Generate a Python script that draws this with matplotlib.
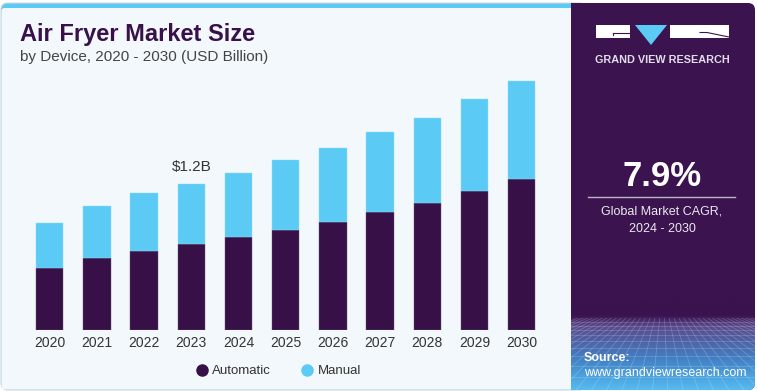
import numpy as np
import matplotlib
matplotlib.use("Agg")
import matplotlib.pyplot as plt
from matplotlib.patches import FancyBboxPatch, Rectangle, Polygon
from matplotlib.lines import Line2D

plt.rcParams['font.family'] = ['Liberation Sans', 'DejaVu Sans']

# data (USD Billion)
years = ['2020', '2021', '2022', '2023', '2024', '2025',
         '2026', '2027', '2028', '2029', '2030']
automatic = [0.51, 0.59, 0.65, 0.71, 0.76, 0.82, 0.89, 0.97, 1.04, 1.14, 1.24]
manual = [0.37, 0.43, 0.47, 0.49, 0.53, 0.57, 0.60, 0.65, 0.70, 0.75, 0.80]
series_names = ['Automatic', 'Manual']
highlight_year = '2023'
highlight_label = '$1.2B'
cagr = '7.9%'

DARK = '#371047'
PANEL = '#3a134f'
CYAN = '#5bcbf5'
LIGHT = '#f3f8fc'

W, H = 757, 391
fig = plt.figure(figsize=(W / 100, H / 100), dpi=100)
fig.patch.set_facecolor('white')

# background canvas in pixel coordinates
bg = fig.add_axes([0, 0, 1, 1], zorder=0)
bg.set_xlim(0, W)
bg.set_ylim(H, 0)
bg.axis('off')

card = FancyBboxPatch((1, 3), 754, 387, boxstyle='round,pad=0,rounding_size=7',
                      fc=PANEL, ec='none')
bg.add_patch(card)
bg.add_patch(FancyBboxPatch((1, 3), 585, 387, boxstyle='round,pad=0,rounding_size=7',
                            fc=CYAN, ec='#cfd6dc', lw=0.8))
bg.add_patch(FancyBboxPatch((1.5, 8), 584, 381.5, boxstyle='round,pad=0,rounding_size=3',
                            fc=LIGHT, ec='none'))
bg.add_patch(Rectangle((571, 3), 20, 387, fc=PANEL, ec='none'))

# gradient + mesh at bottom of the right panel
ys = np.arange(300, 391)
stop_y = [300, 315, 326, 360, 390]
stop_c = np.array([[0x3a, 0x13, 0x4f], [0x3a, 0x13, 0x4f], [0x58, 0x4a, 0x8c],
                   [0x43, 0x82, 0xc6], [0x55, 0xbb, 0xf0]]) / 255.0
grad = np.stack([np.interp(ys, stop_y, stop_c[:, k]) for k in range(3)], axis=-1)
im = bg.imshow(grad[:, None, :], extent=[571, 755, 390, 300], aspect='auto', zorder=1)
im.set_clip_path(card)
bg.set_xlim(0, W)
bg.set_ylim(H, 0)

mesh_clip = Rectangle((571, 318), 184, 72, transform=bg.transData)
vx, vy = 663, 285
for bx in np.arange(380, 960, 16):
    ln = Line2D([vx, bx], [vy, 395], color='white', alpha=0.2, lw=0.6, zorder=2)
    bg.add_line(ln)
    ln.set_clip_path(mesh_clip)
for hy in [322, 326, 330, 335, 341, 348, 356, 366, 377, 390]:
    ln = Line2D([571, 755], [hy, hy], color='white', alpha=0.18, lw=0.6, zorder=2)
    bg.add_line(ln)
    ln.set_clip_path(mesh_clip)

# logo
bg.add_patch(Rectangle((596, 25), 34, 12.5, fc='white', ec='none', zorder=3))
bg.plot([612.5, 630], [32.5, 32.5], color=PANEL, lw=0.8, zorder=4)
bg.plot([612.5, 612.5], [32.5, 35], color=PANEL, lw=0.8, zorder=4)
bg.add_patch(Polygon([(635, 25), (667, 25), (651, 45)], closed=True, fc=CYAN, ec='none', zorder=3))
bg.add_patch(Rectangle((670, 25), 59, 12.5, fc='white', ec='none', zorder=3))
bg.plot([700, 707, 729], [32.5, 32.5, 37], color=PANEL, lw=0.8, zorder=4)
bg.text(662, 60, 'GRAND VIEW RESEARCH', color='#e2dde8', fontsize=7.8,
        fontweight='bold', ha='center', va='center', zorder=4)

# CAGR block
bg.text(662, 176, cagr, color='white', fontsize=25, fontweight='bold',
        ha='center', va='center', zorder=4)
bg.plot([588, 735], [197, 197], color='#bdb4c8', lw=1, zorder=4)
bg.text(662, 212, 'Global Market CAGR,', color='#ece8f0', fontsize=9,
        ha='center', va='center', zorder=4)
bg.text(662, 229, '2024 - 2030', color='#ece8f0', fontsize=9,
        ha='center', va='center', zorder=4)

# source
bg.text(584, 358, 'Source:', color='white', fontsize=9, fontweight='bold',
        ha='left', va='center', zorder=4)
bg.text(584, 373, 'www.grandviewresearch.com', color='white', fontsize=9,
        ha='left', va='center', zorder=4)

# titles
bg.text(20, 34, 'Air Fryer Market Size', color='#38114a', fontsize=17,
        fontweight='bold', ha='left', va='center', zorder=4)
bg.text(20, 57, 'by Device, 2020 - 2030 (USD Billion)', color='#444444',
        fontsize=11, ha='left', va='center', zorder=4)

# bar chart
bottom_px, top_px, left_px, right_px = 330.3, 70, 10, 560
ax = fig.add_axes([left_px / W, (H - bottom_px) / H,
                   (right_px - left_px) / W, (bottom_px - top_px) / H], zorder=2)
ax.patch.set_alpha(0)
x = np.arange(len(years))
ax.bar(x, automatic, width=0.578, color=DARK, edgecolor='#6a5578', linewidth=0.3)
ax.bar(x, manual, width=0.578, bottom=automatic, color=CYAN, edgecolor='#8fdcf8', linewidth=0.3)
ax.set_xlim(-0.841, 10.811)
ax.set_ylim(0, 2.13)
for s in ax.spines.values():
    s.set_visible(False)
ax.set_yticks([])
ax.set_xticks(x)
ax.set_xticklabels(years, fontsize=10, color='#333333')
ax.tick_params(axis='x', length=0, pad=4)

hi = years.index(highlight_year)
ax.annotate(highlight_label, xy=(hi, automatic[hi] + manual[hi]), xytext=(0, 7),
            textcoords='offset points', ha='center', va='bottom',
            fontsize=11, color='#333333')

handles = [Line2D([], [], ls='none', marker='o', markersize=8, color=DARK),
           Line2D([], [], ls='none', marker='o', markersize=8, color=CYAN)]
fig.legend(handles, series_names, loc='center', bbox_to_anchor=(278 / W, (H - 371) / H),
           ncol=2, frameon=False, fontsize=9.5, handletextpad=0.3,
           columnspacing=2.2, handlelength=1.0, labelcolor='#333333')

fig.savefig('out.png', dpi=100)
